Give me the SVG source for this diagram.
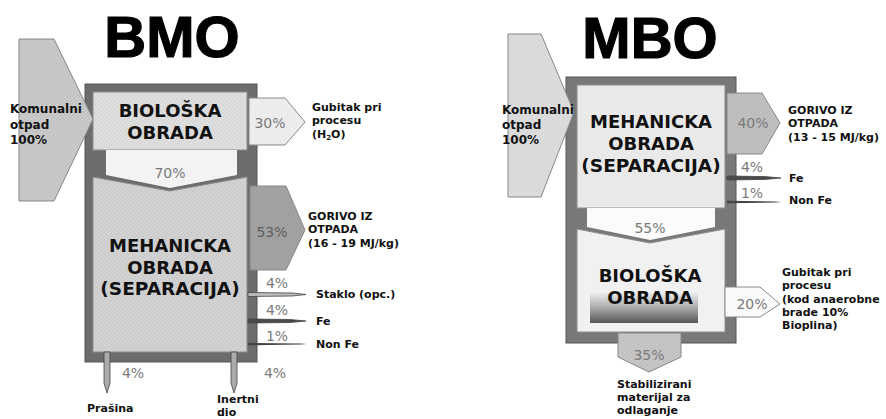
<svg xmlns="http://www.w3.org/2000/svg" width="886" height="419" viewBox="0 0 886 419">
<defs>
<linearGradient id="bioGrad" x1="0" y1="0" x2="0" y2="1">
<stop offset="0" stop-color="#ececec"/>
<stop offset="0.5" stop-color="#a8a8a8"/>
<stop offset="1" stop-color="#555"/>
</linearGradient>
<pattern id="tex" width="4" height="4" patternUnits="userSpaceOnUse">
<path d="M0 4 L4 0" stroke="#000" stroke-opacity="0.05" stroke-width="1"/>
</pattern>
</defs>
<style>
.title{font-family:"Liberation Sans",Arial,sans-serif;font-weight:bold;font-size:58px;fill:#000;stroke:#000;stroke-width:1.2px;text-anchor:middle}
.big{font-family:"DejaVu Sans",Verdana,sans-serif;font-weight:bold;font-size:18px;fill:#111;text-anchor:middle}
.lbl{font-family:"DejaVu Sans",Verdana,sans-serif;font-weight:bold;font-size:11px;fill:#111}
.in{font-family:"DejaVu Sans",Verdana,sans-serif;font-weight:bold;font-size:12px;fill:#111}
.pct{font-family:"DejaVu Sans",Verdana,sans-serif;font-size:14px;fill:#7a7a7a;text-anchor:middle}
.frame{stroke:#555;stroke-width:1}
.box{stroke:#8c8c8c;stroke-width:1}
.arr{stroke:#888;stroke-width:1}
.spike{stroke:#444;stroke-width:0.8}
</style>

<rect width="886" height="419" fill="#fff"/>

<!-- ============ BMO ============ -->
<g id="bmo-title"><text class="title" x="172" y="57">BMO</text></g>

<g id="bmo-frame">
<rect class="frame" x="85" y="84" width="172" height="278" fill="#6e6e6e"/>
<rect x="85" y="84" width="172" height="278" fill="url(#tex)"/>
</g>

<g id="bmo-bio">
<rect class="box" x="93" y="92" width="154" height="58" fill="#dedede"/>
<rect x="93" y="92" width="154" height="58" fill="url(#tex)"/>
<text class="big" x="170" y="117">BIOLOŠKA</text>
<text class="big" x="170" y="139">OBRADA</text>
</g>

<g id="bmo-meh">
<polygon class="box" points="93,177 170,191 247,177 247,352 93,352" fill="#d2d2d2"/>
<polygon points="93,177 170,191 247,177 247,352 93,352" fill="url(#tex)"/>
<text class="big" x="170" y="252">MEHANICKA</text>
<text class="big" x="170" y="273.5">OBRADA</text>
<text class="big" x="170" y="295" style="font-size:18.5px">(SEPARACIJA)</text>
</g>

<g id="bmo-connectors">
<g id="bmo-in">
<polygon class="arr" points="19,39 54,39 93,119 54,201 19,201" fill="#c9c9c9"/>
<polygon points="19,39 54,39 93,119 54,201 19,201" fill="url(#tex)"/>
<text class="in" x="10" y="113">Komunalni</text>
<text class="in" x="10" y="129">otpad</text>
<text class="in" x="10" y="144">100%</text>
</g>
<g id="bmo-70">
<polygon points="106,150 237,150 237,175 170,188 106,175" fill="#f3f3f3"/>
<text class="pct" x="170" y="178">70%</text>
</g>
<g id="bmo-30">
<polygon class="arr" points="249,98 285,98 305,122 285,145 249,145" fill="#ececec"/>
<text class="pct" x="270" y="128">30%</text>
<text class="lbl" x="312" y="111">Gubitak pri</text>
<text class="lbl" x="312" y="124">procesu</text>
<text class="lbl" x="312" y="138">(H<tspan font-size="7" dy="2">2</tspan><tspan dy="-2">O)</tspan></text>
</g>
<g id="bmo-53">
<polygon class="arr" points="250,186 286,186 305,230 286,270 250,270" fill="#a3a3a3"/>
<polygon points="250,186 286,186 305,230 286,270 250,270" fill="url(#tex)"/>
<text class="pct" x="272" y="237" style="fill:#5e5e5e">53%</text>
<text class="lbl" x="308" y="220">GORIVO IZ</text>
<text class="lbl" x="308" y="233">OTPADA</text>
<text class="lbl" x="308" y="247">(16 - 19 MJ/kg)</text>
</g>
<g id="bmo-staklo">
<polygon class="spike" points="248,292.5 292,293 306,294.5 292,296 248,296.5" fill="#bdbdbd"/>
<text class="pct" x="277" y="288">4%</text>
<text class="lbl" x="316" y="298">Staklo (opc.)</text>
</g>
<g id="bmo-fe">
<polygon class="spike" points="248,319 290,319.5 306,321 290,322.5 248,323" fill="#4a4a4a"/>
<text class="pct" x="277" y="315">4%</text>
<text class="lbl" x="316" y="325">Fe</text>
</g>
<g id="bmo-nonfe">
<polygon points="248,342.8 300,343.5 307,344 300,344.5 248,345.3" fill="#444"/>
<text class="pct" x="277" y="341">1%</text>
<text class="lbl" x="316" y="348">Non Fe</text>
</g>
<g id="bmo-prasina">
<polygon class="spike" points="104,352 110,352 110,383 107,393 104,383" fill="#ababab"/>
<text class="pct" x="133" y="378">4%</text>
<text class="lbl" x="87" y="412">Prašina</text>
</g>
<g id="bmo-inertni">
<polygon class="spike" points="231,352 237,352 237,383 234,393 231,383" fill="#ababab"/>
<text class="pct" x="275" y="378">4%</text>
<text class="lbl" x="217" y="402.5">Inertni</text>
<text class="lbl" x="217" y="415.5">dio</text>
</g>
</g>

<!-- ============ MBO ============ -->
<g id="mbo-title"><text class="title" x="650" y="58">MBO</text></g>

<g id="mbo-frame">
<rect class="frame" x="566" y="77" width="170" height="266" fill="#7a7a7a"/>
<rect x="566" y="77" width="170" height="266" fill="url(#tex)"/>
</g>

<g id="mbo-meh">
<rect class="box" x="577" y="85" width="148" height="123" fill="#ebebeb"/>
<rect x="577" y="85" width="148" height="123" fill="url(#tex)" opacity="0.6"/>
<text class="big" x="651" y="128">MEHANICKA</text>
<text class="big" x="651" y="150">OBRADA</text>
<text class="big" x="651" y="172" style="font-size:18.5px">(SEPARACIJA)</text>
</g>

<g id="mbo-bio">
<polygon class="box" points="577,229 650,243 725,229 725,332 577,332" fill="#f1f1f1"/>
<rect x="590" y="293" width="108" height="30" fill="url(#bioGrad)"/>
<text class="big" x="650" y="282">BIOLOŠKA</text>
<text class="big" x="650" y="304">OBRADA</text>
</g>

<g id="mbo-connectors">
<g id="mbo-in">
<polygon class="arr" points="508,34 541,34 574,112 541,197 508,197" fill="#dcdcdc"/>
<polygon points="508,34 541,34 574,112 541,197 508,197" fill="url(#tex)" opacity="0.6"/>
<text class="in" x="502" y="114">Komunalni</text>
<text class="in" x="502" y="129">otpad</text>
<text class="in" x="502" y="144">100%</text>
</g>
<g id="mbo-40">
<polygon class="arr" points="727,93 762,93 780,123 762,154 727,154" fill="#c0c0c0"/>
<polygon points="727,93 762,93 780,123 762,154 727,154" fill="url(#tex)"/>
<text class="pct" x="753" y="128">40%</text>
<text class="lbl" x="788" y="114">GORIVO IZ</text>
<text class="lbl" x="788" y="127">OTPADA</text>
<text class="lbl" x="788" y="141">(13 - 15 MJ/kg)</text>
</g>
<g id="mbo-fe">
<polygon class="spike" points="727,176 765,176.6 781,178 765,179.4 727,180" fill="#4a4a4a"/>
<text class="pct" x="752" y="172">4%</text>
<text class="lbl" x="789" y="182">Fe</text>
</g>
<g id="mbo-nonfe">
<polygon points="727,200.8 775,201.5 782,202 775,202.5 727,203.2" fill="#444"/>
<text class="pct" x="752" y="198">1%</text>
<text class="lbl" x="789" y="204">Non Fe</text>
</g>
<g id="mbo-55">
<polygon points="587,208 715,208 715,227 650,240 587,227" fill="#fbfbfb"/>
<text class="pct" x="650" y="233">55%</text>
</g>
<g id="mbo-20">
<polygon class="arr" points="725,287 760,287 780,304 760,317 725,317" fill="#fafafa"/>
<text class="pct" x="752" y="309">20%</text>
<text class="lbl" x="782" y="276">Gubitak pri</text>
<text class="lbl" x="782" y="289">procesu</text>
<text class="lbl" x="782" y="303">(kod anaerobne</text>
<text class="lbl" x="782" y="316">brade 10%</text>
<text class="lbl" x="782" y="329">Bioplina)</text>
</g>
<g id="mbo-35">
<polygon class="arr" points="618,333 681,333 681,357 649,372 618,357" fill="#c6c6c6"/>
<polygon points="618,333 681,333 681,357 649,372 618,357" fill="url(#tex)"/>
<text class="pct" x="649" y="360">35%</text>
<text class="lbl" x="617" y="388">Stabilizirani</text>
<text class="lbl" x="617" y="401">materijal za</text>
<text class="lbl" x="617" y="414">odlaganje</text>
</g>
</g>
</svg>
